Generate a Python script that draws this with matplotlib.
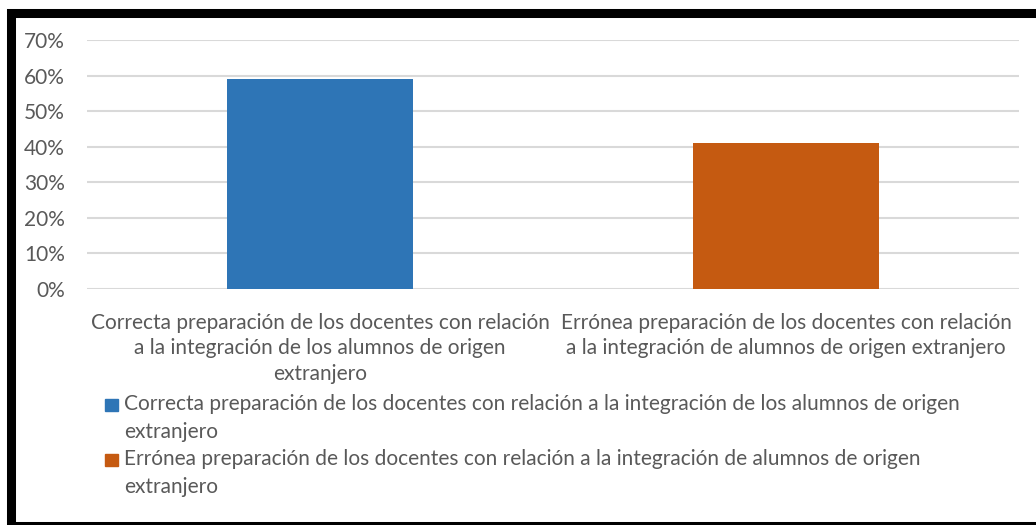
import matplotlib.pyplot as plt
from matplotlib.patches import Rectangle
from matplotlib.ticker import PercentFormatter

categorias = [
    "Correcta preparación de los docentes con relación\na la integración de los alumnos de origen\nextranjero",
    "Errónea preparación de los docentes con relación\na la integración de alumnos de origen extranjero",
]
leyenda = [
    "Correcta preparación de los docentes con relación a la integración de los alumnos de origen\nextranjero",
    "Errónea preparación de los docentes con relación a la integración de alumnos de origen\nextranjero",
]
valores = [0.59, 0.41]
colores = ["#2E75B6", "#C55A11"]
yticks = [0, 0.1, 0.2, 0.3, 0.4, 0.5, 0.6, 0.7]

plt.rcParams['font.family'] = ['Lato', 'DejaVu Sans']
gris = "#595959"
fs = 15

W, H = 1036, 525
fig = plt.figure(figsize=(W / 100, H / 100), dpi=100)
ax = fig.add_axes([87 / W, 1 - 289 / H, 932 / W, 249 / H])

ax.bar(range(len(valores)), valores, width=0.4, color=colores, zorder=3)
ax.set_xlim(-0.5, 1.5)
ax.set_ylim(0, 0.7)
ax.set_yticks(yticks)
ax.yaxis.set_major_formatter(PercentFormatter(1.0, decimals=0))
ax.grid(axis='y', color='#d9d9d9', linewidth=1.5, zorder=0)
ax.set_xticks(range(len(categorias)))
ax.set_xticklabels(categorias, linespacing=1.35)
for s in ax.spines.values():
    s.set_visible(False)
ax.tick_params(axis='both', length=0, colors=gris, labelsize=fs)
ax.tick_params(axis='y', pad=16)
ax.tick_params(axis='x', pad=17)

# leyenda manual
y0 = [405, 460]
for i, txt in enumerate(leyenda):
    fig.patches.append(Rectangle((105 / W, 1 - (y0[i] + 6) / H), 13 / W, 12 / H,
                                 transform=fig.transFigure, color=colores[i]))
    fig.text(124 / W, 1 - (y0[i] - 11) / H, txt, ha='left', va='top',
             color=gris, fontsize=fs, linespacing=1.48)

# borde negro
fig.patches.append(Rectangle((10.5 / W, 1 - 525.5 / H), 1040 / W, 512.5 / H,
                             transform=fig.transFigure, fill=False,
                             edgecolor='black', linewidth=6.5))

fig.savefig('out.png', dpi=100)
